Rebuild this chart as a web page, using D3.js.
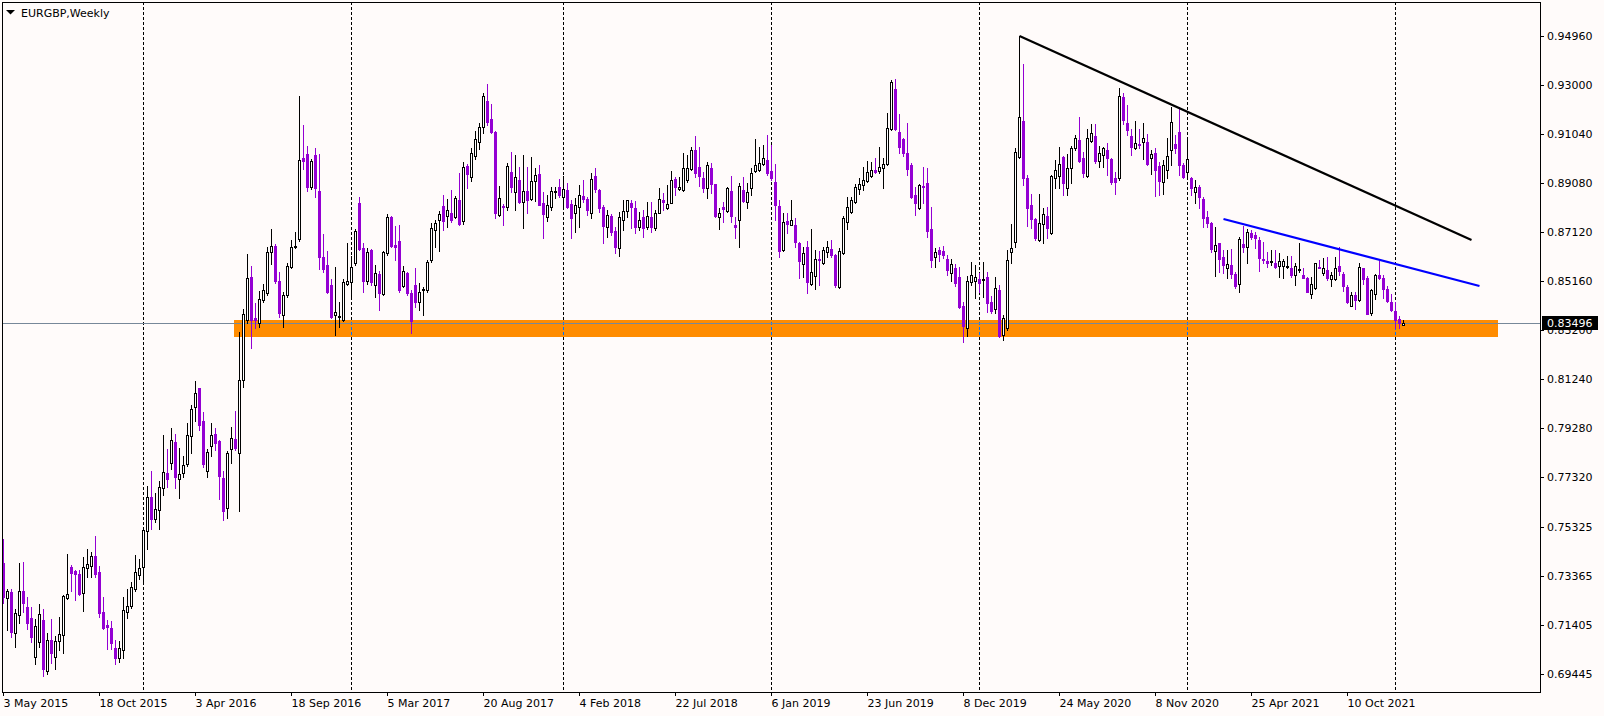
<!DOCTYPE html>
<html><head><meta charset="utf-8">
<script src="https://cdn.jsdelivr.net/npm/d3@7"></script>
<style>
html,body{margin:0;padding:0;background:#fffbfa;overflow:hidden}
svg{display:block}
text{font-family:"DejaVu Sans",sans-serif;font-size:11px;fill:#000}
</style></head><body>
<svg id="c" width="1604" height="716"></svg>
<script>
const symbolTitle = "EURGBP,Weekly";
const opens = [
0.7387,0.7249,0.7272,0.7107,0.7179,0.7276,0.7212,0.7168,0.7013,0.7071,
0.7160,0.6955,0.7080,0.7013,0.7078,0.7099,0.7249,0.7372,0.7356,0.7344,
0.7267,0.7367,0.7377,0.7416,0.7352,0.7191,0.7140,0.7128,0.7047,0.7007,
0.7040,0.7191,0.7216,0.7283,0.7339,0.7373,0.7517,0.7652,0.7563,0.7599,
0.7687,0.7748,0.7787,0.7871,0.7723,0.7747,0.7784,0.7895,0.8013,0.8087,
0.7955,0.7755,0.7856,0.7903,0.7876,0.7728,0.7607,0.7845,0.7884,0.7827,
0.8120,0.8360,0.8531,0.8367,0.8347,0.8440,0.8467,0.8633,0.8656,0.8515,
0.8380,0.8459,0.8573,0.8651,0.8685,0.9007,0.9024,0.8893,0.9020,0.8876,
0.8613,0.8579,0.8500,0.8379,0.8372,0.8360,0.8505,0.8511,0.8587,0.8827,
0.8647,0.8516,0.8640,0.8500,0.8544,0.8463,0.8627,0.8772,0.8660,0.8675,
0.8496,0.8547,0.8467,0.8500,0.8431,0.8480,0.8480,0.8600,0.8720,0.8760,
0.8816,0.8777,0.8787,0.8773,0.8839,0.8755,0.8976,0.8933,0.9016,0.9073,
0.9133,0.9236,0.9163,0.9112,0.8780,0.8816,0.8813,0.8952,0.8873,0.8920,
0.8833,0.8877,0.8845,0.8915,0.8944,0.8828,0.8773,0.8813,0.8873,0.8892,
0.8853,0.8880,0.8824,0.8787,0.8813,0.8856,0.8844,0.8787,0.8936,0.8880,
0.8813,0.8733,0.8776,0.8715,0.8647,0.8760,0.8797,0.8827,0.8807,0.8733,
0.8771,0.8731,0.8773,0.8727,0.8789,0.8840,0.8807,0.8829,0.8924,0.8883,
0.8880,0.8920,0.8963,0.9040,0.8971,0.8927,0.8887,0.8967,0.8904,0.8773,
0.8811,0.8797,0.8876,0.8740,0.8759,0.8880,0.8833,0.8887,0.8957,0.8960,
0.8983,0.9000,0.8956,0.8912,0.8816,0.8640,0.8757,0.8741,0.8740,0.8667,
0.8584,0.8652,0.8504,0.8536,0.8605,0.8589,0.8631,0.8645,0.8620,0.8493,
0.8627,0.8753,0.8793,0.8833,0.8883,0.8900,0.8915,0.8937,0.8959,0.8956,
0.8967,0.8984,0.9123,0.9284,0.9113,0.9084,0.9027,0.8980,0.8860,0.8809,
0.8896,0.8908,0.8724,0.8613,0.8639,0.8635,0.8604,0.8547,0.8568,0.8532,
0.8416,0.8329,0.8513,0.8516,0.8524,0.8521,0.8531,0.8431,0.8403,0.8479,
0.8300,0.8329,0.8633,0.8673,0.9011,0.9157,0.8927,0.8820,0.8764,0.8680,
0.8743,0.8775,0.8707,0.8929,0.8937,0.9011,0.8889,0.8969,0.9047,0.9080,
0.9009,0.8937,0.9076,0.9096,0.8996,0.9020,0.9039,0.9003,0.8927,0.8927,
0.9252,0.9148,0.9096,0.9049,0.9064,0.9073,0.9071,0.9007,0.9028,0.8976,
0.8913,0.8960,0.9040,0.9063,0.9111,0.8980,0.8953,0.8927,0.8873,0.8891,
0.8844,0.8772,0.8747,0.8637,0.8667,0.8613,0.8569,0.8580,0.8544,0.8503,
0.8664,0.8653,0.8709,0.8700,0.8680,0.8604,0.8597,0.8593,0.8587,0.8576,
0.8576,0.8571,0.8569,0.8540,0.8559,0.8540,0.8529,0.8465,0.8487,0.8573,
0.8547,0.8561,0.8524,0.8524,0.8576,0.8544,0.8492,0.8417,0.8460,0.8440,
0.8567,0.8527,0.8387,0.8464,0.8540,0.8529,0.8485,0.8433,0.8396,0.8364,0.8340];
const highs = [
0.7483,0.7284,0.7283,0.7203,0.7387,0.7392,0.7251,0.7211,0.7165,0.7224,
0.7203,0.7107,0.7163,0.7096,0.7172,0.7261,0.7423,0.7379,0.7360,0.7360,
0.7411,0.7444,0.7431,0.7496,0.7376,0.7252,0.7160,0.7156,0.7080,0.7077,
0.7251,0.7283,0.7312,0.7419,0.7404,0.7520,0.7696,0.7756,0.7667,0.7716,
0.7900,0.7844,0.7928,0.7903,0.7848,0.7815,0.7949,0.8019,0.8116,0.8087,
0.7992,0.7843,0.7947,0.7928,0.7880,0.7756,0.7836,0.7932,0.7996,0.8313,
0.8403,0.8624,0.8576,0.8429,0.8476,0.8504,0.8653,0.8724,0.8664,0.8553,
0.8471,0.8587,0.8680,0.8713,0.9257,0.9141,0.9056,0.9003,0.9048,0.9024,
0.8703,0.8635,0.8525,0.8571,0.8433,0.8523,0.8667,0.8616,0.8724,0.8852,
0.8667,0.8647,0.8645,0.8579,0.8556,0.8636,0.8783,0.8775,0.8736,0.8739,
0.8576,0.8552,0.8480,0.8568,0.8507,0.8491,0.8599,0.8747,0.8759,0.8796,
0.8859,0.8844,0.8880,0.8857,0.8947,0.8991,0.8983,0.9049,0.9117,0.9147,
0.9267,0.9304,0.9224,0.9117,0.8896,0.8824,0.8987,0.9032,0.9020,0.8972,
0.9020,0.8971,0.9011,0.8967,0.8980,0.8873,0.8860,0.8891,0.8893,0.8924,
0.8936,0.8907,0.8840,0.8847,0.8900,0.8920,0.8853,0.8947,0.8967,0.8885,
0.8820,0.8800,0.8784,0.8733,0.8793,0.8840,0.8840,0.8840,0.8837,0.8793,
0.8800,0.8833,0.8833,0.8800,0.8889,0.8869,0.8900,0.8956,0.8933,0.8933,
0.9027,0.9020,0.9051,0.9096,0.9053,0.8953,0.8993,0.8987,0.8904,0.8807,
0.8833,0.8893,0.8936,0.8773,0.8907,0.8931,0.8907,0.8967,0.9084,0.9053,
0.9060,0.9100,0.9060,0.8983,0.8840,0.8789,0.8787,0.8840,0.8767,0.8673,
0.8653,0.8676,0.8724,0.8640,0.8636,0.8652,0.8677,0.8680,0.8625,0.8649,
0.8777,0.8851,0.8852,0.8903,0.8929,0.8973,0.8996,0.8991,0.9007,0.9053,
0.9007,0.9189,0.9320,0.9324,0.9184,0.9089,0.9149,0.8987,0.8893,0.8904,
0.8971,0.8969,0.8811,0.8649,0.8653,0.8656,0.8620,0.8603,0.8583,0.8571,
0.8431,0.8537,0.8591,0.8580,0.8547,0.8593,0.8551,0.8456,0.8533,0.8500,
0.8380,0.8639,0.8744,0.9047,0.9496,0.9383,0.8940,0.8863,0.8769,0.8863,
0.8807,0.8813,0.8940,0.9000,0.9053,0.9016,0.9023,0.9056,0.9100,0.9172,
0.9033,0.9123,0.9143,0.9144,0.9056,0.9053,0.9069,0.9009,0.8953,0.9289,
0.9267,0.9220,0.9124,0.9157,0.9123,0.9149,0.9103,0.9040,0.9047,0.8993,
0.9000,0.9087,0.9213,0.9100,0.9213,0.8987,0.9083,0.8933,0.8920,0.8900,
0.8853,0.8796,0.8753,0.8731,0.8667,0.8640,0.8640,0.8644,0.8553,0.8693,
0.8737,0.8723,0.8720,0.8711,0.8693,0.8673,0.8633,0.8640,0.8640,0.8627,
0.8603,0.8616,0.8615,0.8587,0.8669,0.8569,0.8533,0.8533,0.8589,0.8600,
0.8607,0.8611,0.8553,0.8613,0.8653,0.8553,0.8500,0.8471,0.8473,0.8589,
0.8569,0.8536,0.8483,0.8544,0.8596,0.8540,0.8497,0.8463,0.8433,0.8376,0.8359];
const lows = [
0.7227,0.7120,0.7091,0.7053,0.7147,0.7193,0.7125,0.7072,0.6984,0.7053,
0.6938,0.6945,0.6987,0.6965,0.7040,0.7027,0.7244,0.7277,0.7240,0.7260,
0.7197,0.7333,0.7333,0.7333,0.7171,0.7123,0.7043,0.7043,0.6984,0.6993,
0.7007,0.7169,0.7207,0.7277,0.7323,0.7312,0.7443,0.7525,0.7551,0.7525,
0.7660,0.7693,0.7765,0.7689,0.7649,0.7733,0.7777,0.7827,0.7957,0.7920,
0.7773,0.7733,0.7816,0.7840,0.7644,0.7561,0.7569,0.7787,0.7840,0.7597,
0.8090,0.8350,0.8247,0.8327,0.8333,0.8433,0.8460,0.8584,0.8507,0.8373,
0.8331,0.8453,0.8567,0.8647,0.8676,0.8963,0.8877,0.8885,0.8853,0.8564,
0.8553,0.8467,0.8367,0.8300,0.8331,0.8356,0.8500,0.8447,0.8579,0.8640,
0.8471,0.8504,0.8500,0.8453,0.8400,0.8460,0.8620,0.8653,0.8600,0.8472,
0.8491,0.8460,0.8309,0.8412,0.8400,0.8380,0.8473,0.8593,0.8653,0.8637,
0.8720,0.8731,0.8753,0.8767,0.8740,0.8745,0.8887,0.8917,0.9003,0.9043,
0.9107,0.9140,0.9107,0.8768,0.8776,0.8740,0.8800,0.8873,0.8800,0.8827,
0.8729,0.8789,0.8840,0.8837,0.8820,0.8687,0.8757,0.8800,0.8847,0.8853,
0.8813,0.8807,0.8687,0.8713,0.8733,0.8833,0.8780,0.8767,0.8873,0.8793,
0.8667,0.8693,0.8700,0.8627,0.8617,0.8720,0.8773,0.8727,0.8707,0.8720,
0.8693,0.8723,0.8713,0.8720,0.8787,0.8800,0.8804,0.8827,0.8860,0.8880,
0.8877,0.8913,0.8960,0.8933,0.8897,0.8873,0.8847,0.8869,0.8773,0.8723,
0.8751,0.8793,0.8753,0.8687,0.8653,0.8831,0.8807,0.8860,0.8953,0.8956,
0.8980,0.8940,0.8920,0.8760,0.8612,0.8636,0.8707,0.8740,0.8653,0.8527,
0.8532,0.8469,0.8500,0.8483,0.8500,0.8585,0.8613,0.8613,0.8493,0.8489,
0.8623,0.8723,0.8787,0.8827,0.8864,0.8880,0.8911,0.8931,0.8947,0.8947,
0.8889,0.8980,0.9119,0.9119,0.9027,0.9017,0.8940,0.8847,0.8780,0.8804,
0.8829,0.8693,0.8573,0.8573,0.8597,0.8607,0.8540,0.8516,0.8497,0.8407,
0.8273,0.8297,0.8500,0.8449,0.8473,0.8453,0.8393,0.8387,0.8387,0.8293,
0.8280,0.8320,0.8587,0.8653,0.9009,0.8900,0.8736,0.8729,0.8680,0.8676,
0.8669,0.8687,0.8703,0.8887,0.8887,0.8860,0.8860,0.8909,0.9040,0.8993,
0.8933,0.8933,0.9071,0.8987,0.8973,0.8973,0.8940,0.8904,0.8863,0.8920,
0.9143,0.9100,0.9020,0.9044,0.9049,0.9003,0.8980,0.8943,0.8857,0.8860,
0.8863,0.8927,0.8980,0.9027,0.8940,0.8927,0.8929,0.8860,0.8827,0.8807,
0.8733,0.8733,0.8633,0.8536,0.8553,0.8547,0.8529,0.8527,0.8489,0.8471,
0.8631,0.8587,0.8684,0.8647,0.8557,0.8587,0.8573,0.8580,0.8567,0.8533,
0.8527,0.8567,0.8531,0.8500,0.8553,0.8527,0.8471,0.8447,0.8483,0.8567,
0.8540,0.8520,0.8497,0.8520,0.8540,0.8476,0.8429,0.8416,0.8403,0.8437,
0.8503,0.8383,0.8380,0.8444,0.8524,0.8449,0.8433,0.8396,0.8329,0.8327,0.8340];
const closes = [
0.7253,0.7276,0.7113,0.7187,0.7276,0.7229,0.7149,0.7093,0.7136,0.7184,
0.6965,0.7080,0.7029,0.7076,0.7104,0.7257,0.7263,0.7349,0.7345,0.7264,
0.7371,0.7383,0.7416,0.7345,0.7189,0.7129,0.7133,0.7067,0.7007,0.7047,
0.7200,0.7216,0.7291,0.7351,0.7368,0.7520,0.7651,0.7565,0.7603,0.7691,
0.7751,0.7723,0.7879,0.7733,0.7745,0.7780,0.7899,0.8004,0.8067,0.7941,
0.7784,0.7831,0.7900,0.7869,0.7737,0.7597,0.7827,0.7887,0.7849,0.8120,
0.8383,0.8527,0.8360,0.8360,0.8443,0.8479,0.8633,0.8655,0.8517,0.8387,
0.8459,0.8576,0.8651,0.8656,0.9000,0.8997,0.8893,0.8996,0.8889,0.8611,
0.8565,0.8473,0.8373,0.8391,0.8375,0.8512,0.8515,0.8571,0.8715,0.8645,
0.8517,0.8632,0.8513,0.8547,0.8467,0.8631,0.8772,0.8657,0.8653,0.8480,
0.8556,0.8467,0.8357,0.8433,0.8472,0.8484,0.8593,0.8727,0.8747,0.8783,
0.8757,0.8800,0.8761,0.8847,0.8745,0.8971,0.8943,0.9028,0.9083,0.9131,
0.9256,0.9151,0.9112,0.8789,0.8847,0.8813,0.8976,0.8893,0.8931,0.8833,
0.8876,0.8840,0.8916,0.8940,0.8821,0.8784,0.8820,0.8876,0.8875,0.8860,
0.8884,0.8813,0.8768,0.8820,0.8860,0.8845,0.8800,0.8924,0.8883,0.8807,
0.8737,0.8780,0.8713,0.8653,0.8773,0.8797,0.8839,0.8813,0.8733,0.8759,
0.8729,0.8776,0.8733,0.8787,0.8843,0.8833,0.8823,0.8920,0.8893,0.8892,
0.8967,0.8968,0.9040,0.8949,0.8936,0.8887,0.8980,0.8903,0.8777,0.8787,
0.8804,0.8887,0.8777,0.8733,0.8896,0.8836,0.8873,0.8947,0.8980,0.8987,
0.9007,0.8949,0.8927,0.8820,0.8637,0.8752,0.8744,0.8760,0.8673,0.8597,
0.8627,0.8513,0.8552,0.8604,0.8600,0.8639,0.8651,0.8620,0.8500,0.8637,
0.8768,0.8811,0.8840,0.8893,0.8904,0.8920,0.8953,0.8959,0.8953,0.8971,
0.8984,0.9127,0.9313,0.9124,0.9053,0.9027,0.8964,0.8851,0.8829,0.8900,
0.8891,0.8716,0.8600,0.8631,0.8623,0.8620,0.8560,0.8584,0.8507,0.8411,
0.8336,0.8516,0.8540,0.8531,0.8509,0.8523,0.8429,0.8397,0.8489,0.8297,
0.8369,0.8599,0.8649,0.9033,0.9173,0.8929,0.8807,0.8764,0.8687,0.8747,
0.8783,0.8729,0.8936,0.8960,0.8983,0.8909,0.8969,0.9047,0.9089,0.8996,
0.8947,0.9087,0.9107,0.8996,0.9027,0.9047,0.9007,0.8913,0.8913,0.9256,
0.9160,0.9120,0.9053,0.9067,0.9060,0.9087,0.8983,0.9023,0.8960,0.8916,
0.8980,0.9016,0.9151,0.9049,0.8980,0.8933,0.9004,0.8887,0.8891,0.8853,
0.8769,0.8747,0.8644,0.8660,0.8604,0.8580,0.8583,0.8544,0.8497,0.8684,
0.8651,0.8713,0.8693,0.8689,0.8609,0.8600,0.8587,0.8597,0.8573,0.8596,
0.8597,0.8576,0.8540,0.8576,0.8564,0.8529,0.8473,0.8503,0.8587,0.8571,
0.8569,0.8527,0.8540,0.8568,0.8557,0.8496,0.8433,0.8460,0.8441,0.8571,
0.8523,0.8384,0.8480,0.8540,0.8527,0.8484,0.8436,0.8400,0.8360,0.8349,0.83496];

const priceTicks = [0.94960,0.93000,0.91040,0.89080,0.87120,0.85160,0.83200,0.81240,0.79280,0.77320,0.75325,0.73365,0.71405,0.69445];
const dateTickIndex = [0,24,48,72,96,120,144,168,192,216,240,264,288,312,336];
const dateTickLabels = ["3 May 2015","18 Oct 2015","3 Apr 2016","18 Sep 2016","5 Mar 2017","20 Aug 2017","4 Feb 2018","22 Jul 2018","6 Jan 2019","23 Jun 2019","8 Dec 2019","24 May 2020","8 Nov 2020","25 Apr 2021","10 Oct 2021"];
const yearSeparatorIndex = [35,87,140,192,244,296,348];
const lastPrice = 0.83496;
const supportZoneIndex = [58, 374];
const supportZonePrice = [0.8360, 0.8292];
const blackTrendIndex = [254, 367];
const blackTrendPrice = [0.9496, 0.8680];
const blueTrendIndex = [305, 369];
const blueTrendPrice = [0.8764, 0.8496];

const BG = "#fffbfa", BEAR = "#9400d3", BULL_FILL = "#ffffff";
const L = 2, T = 2, R = 1540, B = 692;
const svg = d3.select("#c");
const x = d3.scaleLinear().domain([0, 1]).range([3.5, 7.5]);
const y = d3.scaleLinear().domain([0.94960, 0.69445]).range([36, 673.875]);
const ry = p => Math.round(y(p));

svg.append("rect").attr("width", 1604).attr("height", 716).attr("fill", BG);
svg.append("defs").append("clipPath").attr("id", "plotclip")
  .append("rect").attr("x", L).attr("y", T).attr("width", R - L).attr("height", B - T);
svg.select("defs").append("clipPath").attr("id", "zoneclip")
  .append("rect")
  .attr("x", x(supportZoneIndex[0]) - 1.5).attr("y", ry(supportZonePrice[0]))
  .attr("width", x(supportZoneIndex[1]) - x(supportZoneIndex[0]))
  .attr("height", ry(supportZonePrice[1]) - ry(supportZonePrice[0]));

const g = svg.append("g").attr("clip-path", "url(#plotclip)");

// support zone
g.append("rect")
  .attr("x", x(supportZoneIndex[0]) - 1.5).attr("y", ry(supportZonePrice[0]))
  .attr("width", x(supportZoneIndex[1]) - x(supportZoneIndex[0]))
  .attr("height", ry(supportZonePrice[1]) - ry(supportZonePrice[0]))
  .attr("fill", "#ff8c00");

// year separators
const sepG = g.append("g").attr("shape-rendering", "crispEdges");
yearSeparatorIndex.forEach(i => {
  sepG.append("line").attr("x1", x(i)).attr("x2", x(i)).attr("y1", T).attr("y2", B)
    .attr("stroke", "#000").attr("stroke-width", 1).attr("stroke-dasharray", "3,2");
  sepG.append("line").attr("x1", x(i)).attr("x2", x(i)).attr("y1", T).attr("y2", B)
    .attr("clip-path", "url(#zoneclip)")
    .attr("stroke", "#0073ff").attr("stroke-width", 1).attr("stroke-dasharray", "3,2");
});

// last price line
g.append("line").attr("x1", L).attr("x2", R).attr("y1", ry(lastPrice) + 0.5).attr("y2", ry(lastPrice) + 0.5)
  .attr("stroke", "#778899").attr("stroke-width", 1).attr("shape-rendering", "crispEdges");

// candles
const idx = d3.range(closes.length);
const cg = g.append("g").attr("shape-rendering", "crispEdges");
idx.forEach(i => {
  const o = opens[i], h = highs[i], l = lows[i], c = closes[i];
  const bull = c >= o;
  const col = bull ? "#000" : BEAR;
  const cx = x(i);
  cg.append("line").attr("x1", cx).attr("x2", cx)
    .attr("y1", ry(h)).attr("y2", ry(l) + 1)
    .attr("stroke", col).attr("stroke-width", 1);
  let top = ry(Math.max(o, c)), bot = ry(Math.min(o, c));
  if (bot - top < 1) bot = top + 1;
  if (bull) {
    cg.append("rect").attr("x", cx - 1).attr("y", top + 0.5)
      .attr("width", 2).attr("height", bot - top)
      .attr("fill", BULL_FILL).attr("stroke", "#000").attr("stroke-width", 1);
  } else {
    cg.append("rect").attr("x", cx - 1.5).attr("y", top)
      .attr("width", 3).attr("height", bot - top + 1)
      .attr("fill", BEAR);
  }
});

// trend lines
g.append("line")
  .attr("x1", x(blackTrendIndex[0])).attr("y1", y(blackTrendPrice[0]))
  .attr("x2", x(blackTrendIndex[1])).attr("y2", y(blackTrendPrice[1]))
  .attr("stroke", "#000").attr("stroke-width", 2.2);
g.append("line")
  .attr("x1", x(blueTrendIndex[0])).attr("y1", y(blueTrendPrice[0]))
  .attr("x2", x(blueTrendIndex[1])).attr("y2", y(blueTrendPrice[1]))
  .attr("stroke", "#0000ff").attr("stroke-width", 2.2);

// frame
svg.append("rect").attr("x", L + 0.5).attr("y", T + 0.5).attr("width", R - L).attr("height", B - T)
  .attr("fill", "none").attr("stroke", "#000").attr("stroke-width", 1).attr("shape-rendering", "crispEdges");

// right price axis
const ya = svg.append("g");
priceTicks.forEach(p => {
  const yy = Math.round(y(p)) + 0.5;
  ya.append("line").attr("x1", R).attr("x2", R + 4).attr("y1", yy).attr("y2", yy)
    .attr("stroke", "#000").attr("shape-rendering", "crispEdges");
  ya.append("text").attr("x", R + 7).attr("y", yy).attr("dy", "0.36em").text(p.toFixed(5));
});
// last price label
const lpY = ry(lastPrice);
ya.append("rect").attr("x", R + 2).attr("y", lpY - 7).attr("width", 56).attr("height", 14).attr("fill", "#000");
ya.append("text").attr("x", R + 7).attr("y", lpY + 0.5).attr("dy", "0.36em").style("fill", "#fff").text(lastPrice.toFixed(5));

// bottom date axis
const xa = svg.append("g");
dateTickIndex.forEach((i, k) => {
  const xx = Math.round(x(i) - 0.5) + 0.5;
  xa.append("line").attr("x1", xx).attr("x2", xx).attr("y1", B).attr("y2", B + 4)
    .attr("stroke", "#000").attr("shape-rendering", "crispEdges");
  xa.append("text").attr("x", xx).attr("y", B + 11).attr("dy", "0.36em").text(dateTickLabels[k]);
});

// title
svg.append("path").attr("d", "M6,10 L15,10 L10.5,14.5 Z").attr("fill", "#000");
svg.append("text").attr("x", 21).attr("y", 17).text(symbolTitle);
</script>
</body></html>
